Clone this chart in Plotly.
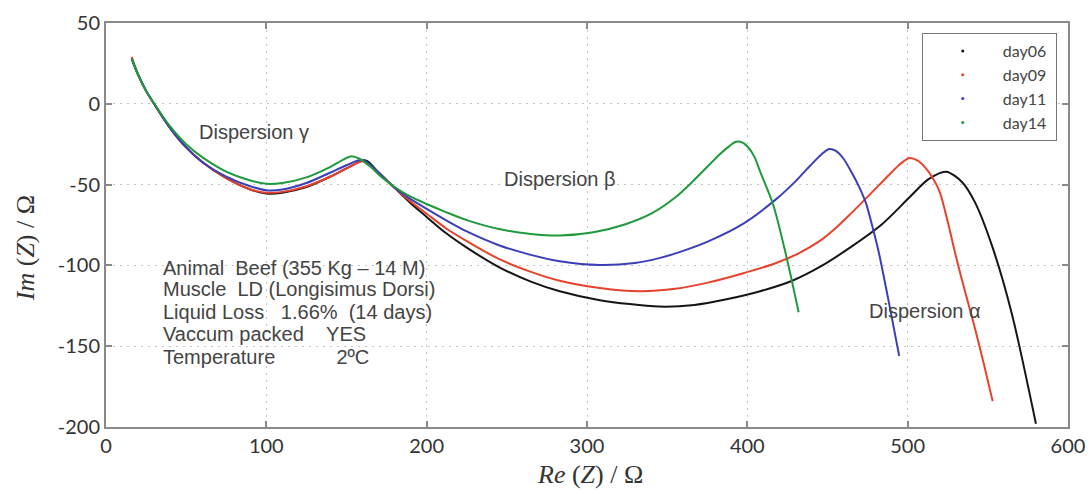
import plotly.graph_objects as go

# Nyquist impedance spectra of beef muscle (LD) at different storage days
re_day06 = [16, 20, 25, 30, 40, 50, 60, 75, 90, 100, 110, 125, 140, 150, 162, 170, 180, 190, 200,
            212, 225, 245, 265, 283, 308, 345, 367, 387, 408, 428, 446, 464, 484, 501, 513, 524, 534,
            542, 553, 565, 580]
im_day06 = [28, 18, 8, 0, -15, -27, -36, -46, -53, -55.5, -55, -51.5, -45, -40, -35, -42.5, -52, -61.5, -70,
            -80, -89, -101, -110, -116, -121.5, -125.5, -124.5, -121, -116, -109.5, -100.5, -89, -74.5,
            -58, -46.6, -42, -48.5, -61, -89, -130, -198]

re_day09 = [16, 20, 25, 30, 40, 50, 60, 75, 90, 100, 110, 125, 140, 150, 160, 170, 180, 190, 200,
            212, 225, 245, 265, 283, 308, 333, 355, 376, 397, 418, 432, 445, 455, 464, 482, 495, 501,
            506, 511, 516, 520, 525, 530, 536, 542, 548, 553]
im_day09 = [29, 18, 8, 0, -15, -27, -36, -46, -53, -55, -54.5, -51, -45, -40, -35.5, -42.5, -52, -60.5, -68,
            -77, -85, -96, -104, -109.5, -114, -116, -114.5, -110.5, -105, -98.5, -92.5, -85, -77, -68.5,
            -50.5, -37.5, -33.5, -35, -39.5, -46.5, -54.5, -73, -94, -117, -139, -163, -184]

re_day11 = [16, 20, 25, 30, 40, 50, 60, 75, 90, 100, 110, 125, 140, 150, 160, 170, 180, 190, 200,
            212, 225, 245, 265, 283, 308, 330, 345, 360, 376, 397, 418, 430, 439, 446, 451, 455, 460,
            465.6, 470, 474, 478, 482, 488.5, 494.7]
im_day11 = [28, 18, 8, 0, -15, -27, -36, -45, -51, -53.5, -53, -49, -42.5, -38, -34.7, -42.5, -52, -59, -65,
            -72, -79, -87.5, -93.5, -97.5, -99.8, -98.5, -95.5, -91, -85, -74.5, -59, -48, -38.5, -31.5,
            -28, -29, -34, -43.5, -52, -61.5, -76, -92, -124, -156]

re_day14 = [16, 20, 25, 30, 40, 50, 60, 75, 90, 100, 110, 125, 140, 148, 153, 158, 165, 172, 180, 190,
            200, 212, 225, 245, 265, 283, 304, 324, 340, 355, 366, 375, 383, 389, 393, 397, 401, 404.5,
            408, 416, 424, 432]
im_day14 = [28, 18, 8, 0, -14, -25, -33, -42, -47.5, -49.5, -49, -45.5, -39, -34.5, -32.5, -34, -39, -45.5,
            -51.5, -57.5, -62, -67, -72, -77.5, -80.5, -81.5, -79.5, -74.5, -68, -58, -48, -39, -31, -26,
            -23.5, -24, -27.5, -33, -42, -62, -93, -129]

series_names = ["day06", "day09", "day11", "day14"]
series_colors = ["#151515", "#e8412c", "#3a3fb8", "#1e9a3c"]
series_re = [re_day06, re_day09, re_day11, re_day14]
series_im = [im_day06, im_day09, im_day11, im_day14]

x_ticks = [0, 100, 200, 300, 400, 500, 600]
y_ticks = [-200, -150, -100, -50, 0, 50]
y_tick_text = ["-200", "-150", "-100", "-50", "0", "50"]

info_lines = [
    "Animal\u00a0\u00a0Beef (355 Kg \u2013 14 M)",
    "Muscle\u00a0\u00a0LD (Longisimus Dorsi)",
    "Liquid Loss\u00a0\u00a0\u00a01.66%\u00a0\u00a0(14 days)",
    "Vaccum packed\u00a0\u00a0\u00a0\u00a0YES",
    "Temperature\u00a0\u00a0\u00a0\u00a0\u00a0\u00a0\u00a0\u00a0\u00a0\u00a0\u00a02\u00baC",
]
info_y = [-101.5, -114.5, -128.7, -142.3, -156.6]

fig = go.Figure()

for name, color, xs, ys in zip(series_names, series_colors, series_re, series_im):
    fig.add_trace(go.Scatter(
        x=xs, y=ys, mode="lines", name=name, showlegend=False,
        line=dict(color=color, width=2, shape="spline", smoothing=0.8),
    ))

# legend entries shown as small dots
for name, color in zip(series_names, series_colors):
    fig.add_trace(go.Scatter(
        x=[None], y=[None], mode="markers", name=name + "\u00a0",
        marker=dict(color=color, size=3),
    ))

label_font = dict(family="Liberation Sans, Arial, sans-serif", size=20, color="#444444")
annotations = [
    dict(x=56.7, y=-17.3, text="Dispersion \u03b3", xanchor="left", yanchor="middle"),
    dict(x=247, y=-46.4, text="Dispersion \u03b2", xanchor="left", yanchor="middle"),
    dict(x=474.8, y=-128, text="Dispersion \u03b1", xanchor="left", yanchor="middle"),
]
for a in annotations:
    fig.add_annotation(xref="x", yref="y", showarrow=False, font=label_font, **a)

for line, yv in zip(info_lines, info_y):
    fig.add_annotation(xref="x", yref="y", x=34.5, y=yv, text=line, showarrow=False,
                       xanchor="left", yanchor="middle", font=label_font)

title_font = dict(family="Liberation Serif, Times New Roman, serif", size=26, color="#333333")
fig.add_annotation(xref="paper", yref="paper", x=0.503, y=-0.118, text="<i>Re</i> (<i>Z</i>) / \u03a9",
                   showarrow=False, xanchor="center", yanchor="middle", font=title_font)
fig.add_annotation(xref="paper", yref="paper", x=-0.084, y=0.443, text="<i>Im</i> (<i>Z</i>) / \u03a9",
                   showarrow=False, xanchor="center", yanchor="middle", textangle=-90, font=title_font)

axis_common = dict(
    showline=True, linecolor="#8a8a8a", linewidth=2, mirror="ticks",
    ticks="inside", ticklen=6, tickcolor="#8a8a8a", tickwidth=1.5,
    showgrid=True, gridcolor="#c4c4c4", griddash="2px,5px", gridwidth=1,
    zeroline=False, automargin=False,
    tickfont=dict(family="Lato, Calibri, sans-serif", size=20, color="#333333"),
)

fig.update_xaxes(range=[0, 600], tickvals=x_ticks, **axis_common)
fig.update_yaxes(range=[-200, 50], tickvals=y_ticks, ticktext=y_tick_text, **axis_common)

fig.update_layout(
    width=1089, height=492,
    margin=dict(l=106, r=21, t=23, b=65),
    paper_bgcolor="white", plot_bgcolor="white",
    legend=dict(
        x=0.848, y=0.975, xanchor="left", yanchor="top",
        bgcolor="white", bordercolor="#777777", borderwidth=1,
        font=dict(family="Lato, Calibri, sans-serif", size=16, color="#444444"),
        itemwidth=70,
    ),
)

fig.write_html("out.html")
